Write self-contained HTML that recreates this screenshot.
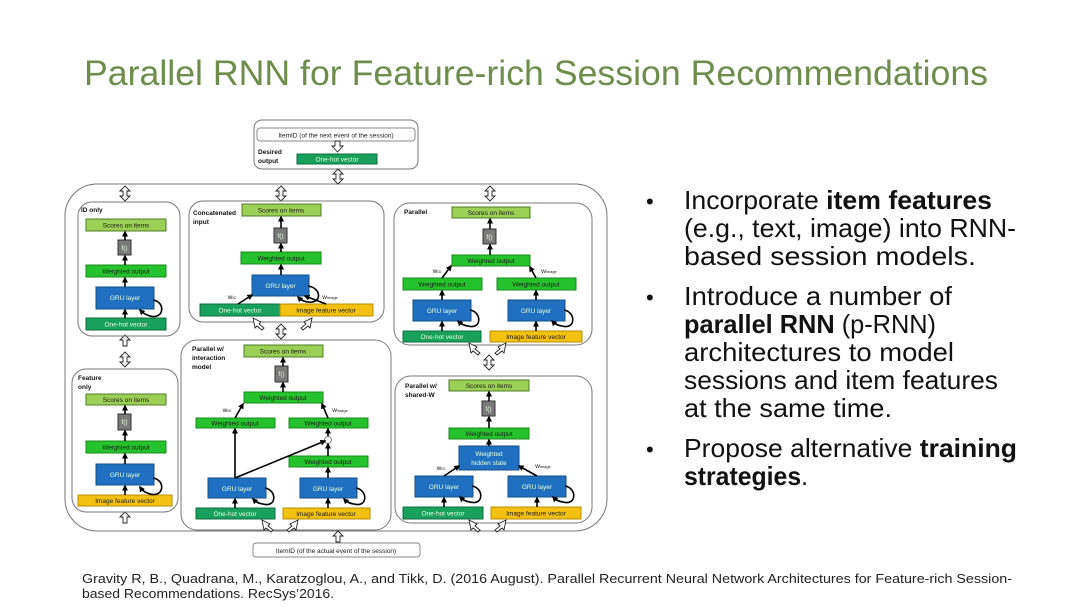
<!DOCTYPE html>
<html><head><meta charset="utf-8"><style>
html,body{margin:0;padding:0;background:#fff;}
svg{display:block;}
.t{font-family:"Liberation Sans",sans-serif;}
.sc{fill:#9ccf55;stroke:#4b7d25;stroke-width:1;}
.wo{fill:#25c22d;stroke:#178a1b;stroke-width:1;}
.oh{fill:#19a05c;stroke:#0f6e3c;stroke-width:1;}
.gru{fill:#1f70c0;stroke:#144f8a;stroke-width:1;}
.img{fill:#f3c112;stroke:#b88d00;stroke-width:1;}
.f{fill:#7a7a7a;stroke:#333;stroke-width:1;}
.bx{fill:none;stroke:#777;stroke-width:1;}
.bl{font-family:"Liberation Sans",sans-serif;font-size:6.5px;fill:#1a1a1a;text-anchor:middle;}
.wl{font-family:"Liberation Sans",sans-serif;font-size:6.5px;fill:#e8ffe0;text-anchor:middle;}
.lab{font-family:"Liberation Sans",sans-serif;font-size:6.5px;font-weight:bold;fill:#111;}
.ar{stroke:#000;stroke-width:1.6;fill:none;marker-end:url(#ah);}
.lp{stroke:#000;stroke-width:1.6;fill:none;marker-end:url(#ah);}
.da{fill:#fff;stroke:#222;stroke-width:0.9;}
</style></head><body>
<svg width="1080" height="607" viewBox="0 0 1080 607" xmlns="http://www.w3.org/2000/svg">
<defs>
<marker id="ah" markerWidth="6" markerHeight="6" refX="4.5" refY="3" orient="auto" markerUnits="userSpaceOnUse"><path d="M0,0 L6,3 L0,6 z" fill="#000"/></marker>
</defs>

<text x="84" y="85" class="t" font-size="35" fill="#6e8d4c" textLength="904" lengthAdjust="spacingAndGlyphs">Parallel RNN for Feature-rich Session Recommendations</text>

<!-- bullets -->
<g class="t" font-size="26" fill="#111">
<text x="646" y="209" font-size="22">•</text>
<text x="684" y="209" textLength="308" lengthAdjust="spacingAndGlyphs">Incorporate <tspan font-weight="bold">item features</tspan></text>
<text x="684" y="237" textLength="332" lengthAdjust="spacingAndGlyphs">(e.g., text, image) into RNN-</text>
<text x="684" y="265" textLength="292" lengthAdjust="spacingAndGlyphs">based session models.</text>
<text x="646" y="305" font-size="22">•</text>
<text x="684" y="305" textLength="268" lengthAdjust="spacingAndGlyphs">Introduce a number of</text>
<text x="684" y="333" textLength="252" lengthAdjust="spacingAndGlyphs"><tspan font-weight="bold">parallel RNN</tspan> (p-RNN)</text>
<text x="684" y="361" textLength="270" lengthAdjust="spacingAndGlyphs">architectures to model</text>
<text x="684" y="389" textLength="314" lengthAdjust="spacingAndGlyphs">sessions and item features</text>
<text x="684" y="417" textLength="208" lengthAdjust="spacingAndGlyphs">at the same time.</text>
<text x="646" y="457" font-size="22">•</text>
<text x="684" y="457" textLength="333" lengthAdjust="spacingAndGlyphs">Propose alternative <tspan font-weight="bold">training</tspan></text>
<text x="684" y="485" textLength="124" lengthAdjust="spacingAndGlyphs"><tspan font-weight="bold">strategies</tspan>.</text>
</g>

<text x="82" y="583" class="t" font-size="13" fill="#222" textLength="930" lengthAdjust="spacingAndGlyphs">Gravity R, B., Quadrana, M., Karatzoglou, A.,  and Tikk, D. (2016 August). Parallel Recurrent Neural Network Architectures for Feature-rich Session-</text>
<text x="82" y="598" class="t" font-size="13" fill="#222" textLength="252" lengthAdjust="spacingAndGlyphs">based Recommendations. RecSys’2016.</text>

<!-- top box -->
<rect x="254" y="120" width="164" height="49" rx="8" class="bx"/>
<rect x="257" y="128" width="158" height="13" rx="3" fill="#fff" stroke="#888"/>
<text x="336" y="137.5" class="bl" font-size="7">ItemID (of the next event of the session)</text>
<text x="258" y="154" class="lab">Desired</text>
<text x="258" y="163" class="lab">output</text>
<rect x="297" y="154" width="80" height="10" class="oh"/>
<text x="337" y="161.5" class="wl">One-hot vector</text>
<path d="M335,141 h5 v5 h3 l-5.5,6 l-5.5,-6 h3 z" class="da"/>

<!-- outer big box -->
<rect x="65" y="184" width="542" height="347" rx="32" class="bx"/>

<!-- double arrows -->
<g>
<path d="M338,169 l5,5 h-3 v5 h3 l-5,5 l-5,-5 h3 v-5 h-3 z" class="da"/>
<path d="M125,186 l5,5 h-3 v5 h3 l-5,5 l-5,-5 h3 v-5 h-3 z" class="da"/>
<path d="M281,186 l5,5 h-3 v5 h3 l-5,5 l-5,-5 h3 v-5 h-3 z" class="da"/>
<path d="M490,186 l5,5 h-3 v5 h3 l-5,5 l-5,-5 h3 v-5 h-3 z" class="da"/>
<path d="M125,352 l5,5 h-3 v5 h3 l-5,5 l-5,-5 h3 v-5 h-3 z" class="da"/>
<path d="M281,324 l5,5 h-3 v5 h3 l-5,5 l-5,-5 h3 v-5 h-3 z" class="da"/>
<path d="M489,355 l5,5 h-3 v5 h3 l-5,5 l-5,-5 h3 v-5 h-3 z" class="da"/>
<path d="M125,335 l5,5 h-3 v6 h-4 v-6 h-3 z" class="da"/>
<path d="M125,512 l5,5 h-3 v6 h-4 v-6 h-3 z" class="da"/>
<path d="M338,531 l5,5 h-3 v6 h-4 v-6 h-3 z" class="da"/>
</g>

<!-- bottom box -->
<rect x="253" y="543" width="167" height="14" rx="3" fill="#fff" stroke="#888"/>
<text x="336" y="553" class="bl" font-size="7">ItemID (of the actual event of the session)</text>

<!-- ID only -->
<rect x="78" y="202" width="102" height="134" rx="14" class="bx"/>
<text x="81" y="212" class="lab">ID only</text>
<rect x="86" y="219" width="80" height="12" class="sc"/><text x="126" y="227.5" class="bl">Scores on items</text>
<rect x="118" y="240" width="13" height="15" class="f"/><text x="124.5" y="250" class="wl">f()</text>
<rect x="86" y="265" width="80" height="12" class="wo"/><text x="126" y="273.5" class="bl">Weighted output</text>
<rect x="96" y="287" width="58" height="22" class="gru"/><text x="125" y="300" class="wl">GRU layer</text>
<rect x="86" y="318" width="80" height="12" class="oh"/><text x="126" y="326.5" class="wl">One-hot vector</text>
<line x1="125" y1="318" x2="125" y2="310" class="ar"/>
<line x1="125" y1="287" x2="125" y2="278" class="ar"/>
<line x1="125" y1="265" x2="125" y2="256" class="ar"/>
<line x1="125" y1="240" x2="125" y2="232" class="ar"/>
<path d="M153,300 C166,302 164,320 150,316 C144,314 142,312 140,310" class="lp"/>

<!-- Feature only -->
<rect x="72" y="369" width="106" height="143" rx="14" class="bx"/>
<text x="78" y="380" class="lab">Feature</text><text x="78" y="389" class="lab">only</text>
<rect x="86" y="394" width="80" height="11" class="sc"/><text x="126" y="402" class="bl">Scores on items</text>
<rect x="118" y="414" width="13" height="16" class="f"/><text x="124.5" y="424" class="wl">f()</text>
<rect x="86" y="441" width="80" height="12" class="wo"/><text x="126" y="449.5" class="bl">Weighted output</text>
<rect x="96" y="464" width="58" height="21" class="gru"/><text x="125" y="477" class="wl">GRU layer</text>
<rect x="78" y="495" width="94" height="11" class="img"/><text x="125" y="503" class="bl">Image feature vector</text>
<line x1="125" y1="495" x2="125" y2="486" class="ar"/>
<line x1="125" y1="464" x2="125" y2="454" class="ar"/>
<line x1="125" y1="441" x2="125" y2="431" class="ar"/>
<line x1="125" y1="414" x2="125" y2="406" class="ar"/>
<path d="M153,478 C166,480 164,498 150,494 C144,492 142,490 140,487" class="lp"/>

<!-- Concatenated -->
<rect x="189" y="201" width="195" height="121" rx="14" class="bx"/>
<text x="193" y="215" class="lab">Concatenated</text><text x="193" y="224" class="lab">input</text>
<rect x="242" y="204" width="79" height="12" class="sc"/><text x="281" y="212.5" class="bl">Scores on items</text>
<rect x="274" y="228" width="13" height="15" class="f"/><text x="280.5" y="238" class="wl">f()</text>
<rect x="241" y="252" width="80" height="12" class="wo"/><text x="281" y="260.5" class="bl">Weighted output</text>
<rect x="252" y="275" width="57" height="21" class="gru"/><text x="280.5" y="288" class="wl">GRU layer</text>
<rect x="200" y="304" width="80" height="12" class="oh"/><text x="240" y="312.5" class="wl">One-hot vector</text>
<rect x="280" y="304" width="93" height="12" class="img"/><text x="326" y="312.5" class="bl">Image feature vector</text>
<line x1="281" y1="275" x2="281" y2="265" class="ar"/>
<line x1="281" y1="252" x2="281" y2="244" class="ar"/>
<line x1="281" y1="228" x2="281" y2="217" class="ar"/>
<line x1="238" y1="304" x2="252" y2="295" class="ar"/>
<line x1="326" y1="304" x2="305" y2="296" class="ar"/>
<text x="232" y="299" class="bl" font-size="5.5">w<tspan font-size="4">ID</tspan></text>
<text x="330" y="299" class="bl" font-size="5.5">w<tspan font-size="4">image</tspan></text>
<path d="M308,286 C322,288 322,304 308,302 C302,301 300,299 298,297" class="lp"/>
<path d="M253,318 l8,4 l-2,2 l5,4 l-2,2 l-5,-4 l-2,2 z" class="da"/>
<path d="M312,318 l-8,4 l2,2 l-5,4 l2,2 l5,-4 l2,2 z" class="da"/>

<!-- Parallel w/ interaction -->
<rect x="181" y="340" width="210" height="190" rx="16" class="bx"/>
<text x="192" y="351" class="lab">Parallel w/</text><text x="192" y="360" class="lab">interaction</text><text x="192" y="369" class="lab">model</text>
<rect x="244" y="345" width="79" height="12" class="sc"/><text x="283" y="353.5" class="bl">Scores on items</text>
<rect x="275" y="366" width="13" height="16" class="f"/><text x="281.5" y="376" class="wl">f()</text>
<rect x="244" y="392" width="79" height="11" class="wo"/><text x="283" y="400" class="bl">Weighted output</text>
<rect x="196" y="418" width="79" height="10" class="wo"/><text x="235" y="425.5" class="bl">Weighted output</text>
<rect x="289" y="418" width="79" height="10" class="wo"/><text x="328" y="425.5" class="bl">Weighted output</text>
<circle cx="328" cy="440" r="3.5" fill="#fff" stroke="#888"/>
<rect x="289" y="456" width="79" height="11" class="wo"/><text x="328" y="464" class="bl">Weighted output</text>
<rect x="208" y="478" width="58" height="20" class="gru"/><text x="237" y="491" class="wl">GRU layer</text>
<rect x="300" y="478" width="57" height="20" class="gru"/><text x="328" y="491" class="wl">GRU layer</text>
<rect x="196" y="508" width="79" height="11" class="oh"/><text x="235" y="516" class="wl">One-hot vector</text>
<rect x="283" y="508" width="87" height="11" class="img"/><text x="326" y="516" class="bl">Image feature vector</text>
<line x1="283" y1="366" x2="283" y2="358" class="ar"/>
<line x1="283" y1="392" x2="283" y2="383" class="ar"/>
<line x1="235" y1="418" x2="243" y2="404" class="ar"/>
<line x1="328" y1="418" x2="322" y2="404" class="ar"/>
<text x="227" y="412" class="bl" font-size="5.5">w<tspan font-size="4">ID</tspan></text>
<text x="340" y="412" class="bl" font-size="5.5">w<tspan font-size="4">image</tspan></text>
<line x1="235" y1="478" x2="235" y2="429" class="ar"/>
<line x1="235" y1="478" x2="325" y2="441" class="ar"/>
<line x1="328" y1="436" x2="328" y2="429" class="ar"/>
<line x1="328" y1="456" x2="328" y2="444" class="ar"/>
<line x1="328" y1="478" x2="328" y2="468" class="ar"/>
<line x1="235" y1="508" x2="235" y2="499" class="ar"/>
<line x1="328" y1="508" x2="328" y2="499" class="ar"/>
<path d="M265,488 C277,490 277,508 263,504 C257,503 255,501 253,499" class="lp"/>
<path d="M356,488 C368,490 368,508 354,504 C348,503 346,501 344,499" class="lp"/>
<path d="M262,520 l8,4 l-2,2 l5,4 l-2,2 l-5,-4 l-2,2 z" class="da"/>
<path d="M298,520 l-8,4 l2,2 l-5,4 l2,2 l5,-4 l2,2 z" class="da"/>

<!-- Parallel -->
<rect x="394" y="203" width="198" height="142" rx="16" class="bx"/>
<text x="404" y="214" class="lab">Parallel</text>
<rect x="452" y="207" width="78" height="11" class="sc"/><text x="491" y="215" class="bl">Scores on items</text>
<rect x="483" y="229" width="13" height="15" class="f"/><text x="489.5" y="239" class="wl">f()</text>
<rect x="452" y="255" width="78" height="11" class="wo"/><text x="491" y="263" class="bl">Weighted output</text>
<rect x="403" y="278" width="79" height="12" class="wo"/><text x="442" y="286.5" class="bl">Weighted output</text>
<rect x="497" y="278" width="79" height="12" class="wo"/><text x="536" y="286.5" class="bl">Weighted output</text>
<rect x="413" y="300" width="58" height="21" class="gru"/><text x="442" y="313" class="wl">GRU layer</text>
<rect x="508" y="300" width="57" height="21" class="gru"/><text x="536" y="313" class="wl">GRU layer</text>
<rect x="403" y="331" width="78" height="11" class="oh"/><text x="442" y="339" class="wl">One-hot vector</text>
<rect x="490" y="331" width="92" height="11" class="img"/><text x="536" y="339" class="bl">Image feature vector</text>
<line x1="490" y1="229" x2="490" y2="219" class="ar"/>
<line x1="490" y1="255" x2="490" y2="245" class="ar"/>
<line x1="442" y1="278" x2="451" y2="266" class="ar"/>
<line x1="536" y1="278" x2="530" y2="267" class="ar"/>
<text x="437" y="273" class="bl" font-size="5.5">w<tspan font-size="4">ID</tspan></text>
<text x="549" y="273" class="bl" font-size="5.5">w<tspan font-size="4">image</tspan></text>
<line x1="442" y1="300" x2="442" y2="291" class="ar"/>
<line x1="536" y1="300" x2="536" y2="291" class="ar"/>
<line x1="442" y1="331" x2="442" y2="322" class="ar"/>
<line x1="536" y1="331" x2="536" y2="322" class="ar"/>
<path d="M470,310 C482,312 482,330 468,326 C462,325 460,323 458,321" class="lp"/>
<path d="M564,310 C576,312 576,330 562,326 C556,325 554,323 552,321" class="lp"/>
<path d="M469,343 l8,4 l-2,2 l5,4 l-2,2 l-5,-4 l-2,2 z" class="da"/>
<path d="M506,343 l-8,4 l2,2 l-5,4 l2,2 l5,-4 l2,2 z" class="da"/>

<!-- Parallel shared-W -->
<rect x="395" y="376" width="197" height="147" rx="16" class="bx"/>
<text x="405" y="388" class="lab">Parallel w/</text><text x="405" y="397" class="lab">shared-W</text>
<rect x="449" y="380" width="80" height="11" class="sc"/><text x="489" y="388" class="bl">Scores on items</text>
<rect x="482" y="401" width="13" height="15" class="f"/><text x="488.5" y="411" class="wl">f()</text>
<rect x="449" y="428" width="80" height="11" class="wo"/><text x="489" y="436" class="bl">Weighted output</text>
<rect x="459" y="446" width="60" height="24" class="gru"/><text x="489" y="456" class="wl">Weighted</text><text x="489" y="465" class="wl">hidden state</text>
<rect x="415" y="476" width="58" height="21" class="gru"/><text x="444" y="489" class="wl">GRU layer</text>
<rect x="508" y="476" width="58" height="21" class="gru"/><text x="537" y="489" class="wl">GRU layer</text>
<rect x="403" y="507" width="80" height="12" class="oh"/><text x="443" y="515.5" class="wl">One-hot vector</text>
<rect x="491" y="507" width="90" height="12" class="img"/><text x="536" y="515.5" class="bl">Image feature vector</text>
<line x1="489" y1="401" x2="489" y2="392" class="ar"/>
<line x1="489" y1="428" x2="489" y2="417" class="ar"/>
<line x1="489" y1="446" x2="489" y2="440" class="ar"/>
<line x1="444" y1="476" x2="459" y2="466" class="ar"/>
<line x1="537" y1="476" x2="519" y2="466" class="ar"/>
<text x="441" y="470" class="bl" font-size="5.5">w<tspan font-size="4">ID</tspan></text>
<text x="543" y="468" class="bl" font-size="5.5">w<tspan font-size="4">image</tspan></text>
<line x1="444" y1="507" x2="444" y2="498" class="ar"/>
<line x1="537" y1="507" x2="537" y2="498" class="ar"/>
<path d="M472,486 C484,488 484,506 470,502 C464,501 462,499 460,497" class="lp"/>
<path d="M565,486 C577,488 577,506 563,502 C557,501 555,499 553,497" class="lp"/>
<path d="M469,520 l8,4 l-2,2 l5,4 l-2,2 l-5,-4 l-2,2 z" class="da"/>
<path d="M506,520 l-8,4 l2,2 l-5,4 l2,2 l5,-4 l2,2 z" class="da"/>
</svg>
</body></html>
